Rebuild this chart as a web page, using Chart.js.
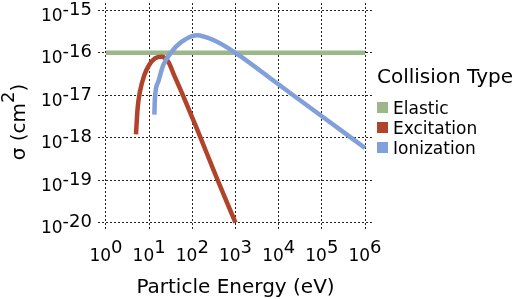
<!DOCTYPE html>
<html>
<head>
<meta charset="utf-8">
<script src="https://cdn.jsdelivr.net/npm/chart.js@4.4.0/dist/chart.umd.min.js"></script>
<style>
  html, body { margin: 0; padding: 0; background: #fff; }
  #wrap { width: 514px; height: 299px; position: relative; }
</style>
</head>
<body>
<div id="wrap"><canvas id="myChart"></canvas></div>
<script>
// values: energy in eV, cross section in cm^2
const elasticE = [1, 10, 100, 1000, 10000, 100000, 1000000];
const elasticS = [1e-16, 1e-16, 1e-16, 1e-16, 1e-16, 1e-16, 1e-16];

const excitationE = [4.95, 5.4, 6.1, 7.7, 9.9, 13.6, 19.5, 27.5, 38, 56, 120, 372, 1000];
const excitationS = [1.2e-18, 4.9e-18, 1.2e-17, 2.95e-17, 5.1e-17, 7.4e-17, 8.1e-17, 6.2e-17, 2.95e-17, 1.2e-17, 1.9e-18, 1.1e-19, 1e-20];

const ionizationE = [13.2, 13.6, 16.3, 21.2, 33, 56, 126, 307, 1000, 10000, 100000, 1000000];
const ionizationS = [3.5e-18, 8.5e-18, 2.1e-17, 5.1e-17, 1.05e-16, 1.8e-16, 2.6e-16, 2.0e-16, 1e-16, 1.79e-17, 3.2e-18, 5.75e-19];

const xTicks = [1, 10, 100, 1000, 10000, 100000, 1000000];
const xTickExp = ["0", "1", "2", "3", "4", "5", "6"];
const yTicks = [1e-15, 1e-16, 1e-17, 1e-18, 1e-19, 1e-20];
const yTickExp = ["-15", "-16", "-17", "-18", "-19", "-20"];

const seriesNames = ["Elastic", "Excitation", "Ionization"];
const seriesColors = ["#9cb88b", "#b2432b", "#819fd8"];
const legendTitle = "Collision Type";

function pts(xs, ys) {
  return xs.map((x, i) => ({x: x, y: ys[i]}));
}

const FONT = '"DejaVu Sans", sans-serif';

// tick labels with superscripts, axis titles and the legend
const textPlugin = {
  id: "textPlugin",
  afterDraw(chart) {
    const ctx = chart.ctx;
    const xs = chart.scales.x, ys = chart.scales.y;
    ctx.save();
    ctx.fillStyle = "#000";
    ctx.textBaseline = "alphabetic";
    ctx.textAlign = "left";

    xTicks.forEach((v, i) => {
      const px = xs.getPixelForValue(v);
      ctx.font = "17px " + FONT;
      const wb = ctx.measureText("10").width;
      ctx.font = "18px " + FONT;
      const we = ctx.measureText(xTickExp[i]).width;
      const left = px - (wb + we) / 2;
      ctx.font = "17px " + FONT;
      ctx.fillText("10", left, 260.5);
      ctx.font = "18px " + FONT;
      ctx.fillText(xTickExp[i], left + wb, 253);
    });

    yTicks.forEach((v, i) => {
      const py = ys.getPixelForValue(v);
      ctx.font = "17px " + FONT;
      const wb = ctx.measureText("10").width;
      ctx.font = "18px " + FONT;
      const we = ctx.measureText(yTickExp[i]).width;
      const left = 92 - wb - we;
      ctx.font = "17px " + FONT;
      ctx.fillText("10", left, py + 10.5);
      ctx.font = "18px " + FONT;
      ctx.fillText(yTickExp[i], left + wb, py + 4.5);
    });

    // x title
    ctx.font = "20px " + FONT;
    ctx.textAlign = "center";
    ctx.fillText("Particle Energy (eV)", (xs.getPixelForValue(1) + xs.getPixelForValue(1e6)) / 2, 293);

    // y title, rotated
    ctx.textAlign = "left";
    ctx.translate(25, 122);
    ctx.rotate(-Math.PI / 2);
    ctx.font = "20px " + FONT;
    const a = "\u03c3 (cm", b = "2", c = ")";
    const wa = ctx.measureText(a).width;
    const wc = ctx.measureText(c).width;
    ctx.font = "18px " + FONT;
    const wsup = ctx.measureText(b).width;
    let x0 = -(wa + wsup + wc) / 2;
    ctx.font = "20px " + FONT;
    ctx.fillText(a, x0, 0);
    ctx.font = "18px " + FONT;
    ctx.fillText(b, x0 + wa, -11);
    ctx.font = "20px " + FONT;
    ctx.fillText(c, x0 + wa + wsup, 0);
    ctx.setTransform(1, 0, 0, 1, 0, 0);

    // legend
    ctx.font = "20px " + FONT;
    ctx.fillText(legendTitle, 377, 83);
    ctx.font = "17px " + FONT;
    chart.data.datasets.forEach((ds, i) => {
      const cy = 107.5 + i * 20;
      ctx.fillStyle = ds.borderColor;
      ctx.fillRect(377, cy - 5.5, 11, 11);
      ctx.fillStyle = "#000";
      ctx.fillText(ds.label, 393, cy + 6);
    });
    ctx.restore();
  }
};

new Chart("myChart", {
  type: "line",
  data: {
    datasets: [
      {label: seriesNames[0], data: pts(elasticE, elasticS), borderColor: seriesColors[0], borderWidth: 4.5, order: 3},
      {label: seriesNames[1], data: pts(excitationE, excitationS), borderColor: seriesColors[1], borderWidth: 4.5, order: 2},
      {label: seriesNames[2], data: pts(ionizationE, ionizationS), borderColor: seriesColors[2], borderWidth: 4.5, order: 1}
    ]
  },
  options: {
    responsive: true,
    maintainAspectRatio: false,
    animation: false,
    events: [],
    elements: {
      point: {radius: 0},
      line: {cubicInterpolationMode: "monotone", fill: false}
    },
    layout: {padding: {left: 98, right: 141, top: 3, bottom: 68}},
    plugins: {legend: {display: false}, tooltip: {enabled: false}},
    scales: {
      x: {
        type: "logarithmic",
        bounds: "data",
        min: Math.pow(10, -0.185),
        max: Math.pow(10, 6.185),
        afterBuildTicks: s => { s.ticks = xTicks.map(v => ({value: v})); },
        ticks: {display: false},
        grid: {color: "#222", lineWidth: 1, drawTicks: false},
        border: {display: false, dash: [2, 2]}
      },
      y: {
        type: "logarithmic",
        bounds: "data",
        min: Math.pow(10, -20.195),
        max: Math.pow(10, -14.828),
        afterBuildTicks: s => { s.ticks = yTicks.map(v => ({value: v})); },
        ticks: {display: false},
        grid: {color: "#222", lineWidth: 1, drawTicks: false},
        border: {display: false, dash: [2, 2]}
      }
    }
  },
  plugins: [textPlugin]
});
</script>
</body>
</html>
